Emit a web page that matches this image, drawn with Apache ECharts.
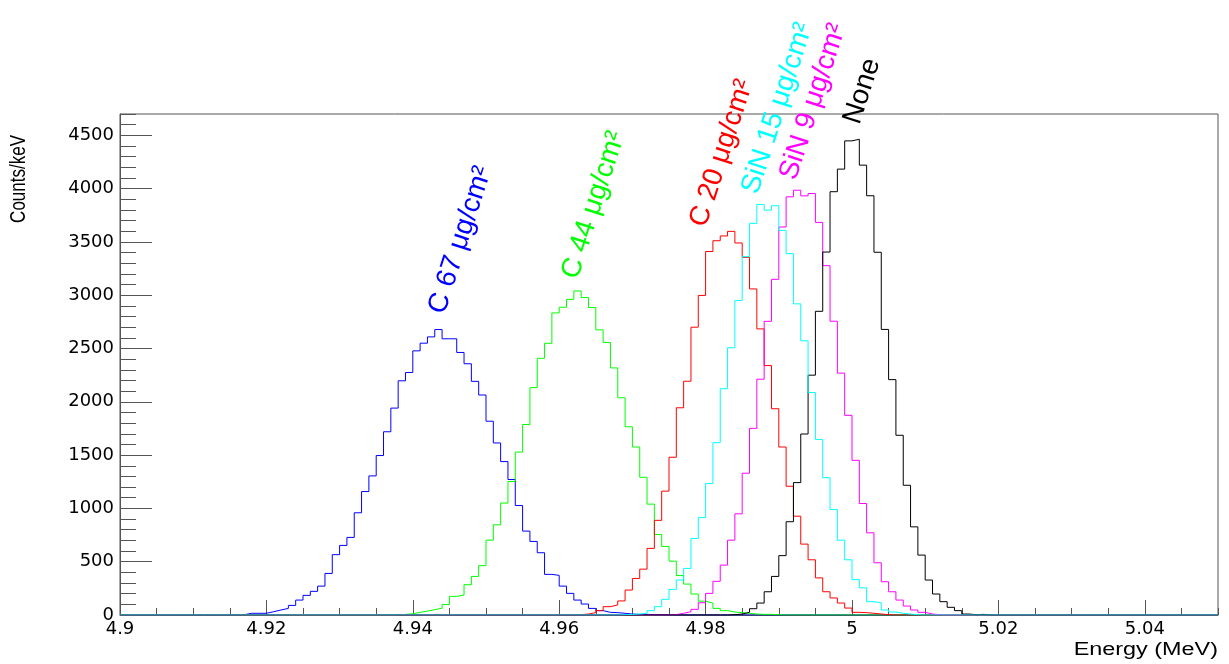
<!DOCTYPE html>
<html>
<head>
<meta charset="utf-8">
<script src="https://cdn.jsdelivr.net/npm/echarts@6/dist/echarts.min.js"></script>
<style>
html,body{margin:0;padding:0;background:#fff;}
#chart{width:1229px;height:664px;}
</style>
</head>
<body>
<div id="chart"></div>
<script>
// ---- data (counts per 1 keV bin); each list starts at the given bin low edge (MeV)
const xTickLabels = ['4.9','4.92','4.94','4.96','4.98','5','5.02','5.04'];
const yTickLabels = ['0','500','1000','1500','2000','2500','3000','3500','4000','4500'];

const seriesNames = ['C 67 μg/cm²','C 44 μg/cm²','C 20 μg/cm²','SiN 15 μg/cm²','SiN 9 μg/cm²','None'];
const seriesColors = ['#0000ff','#00ff00','#ff0000','#00ffff','#ff00ff','#000000'];

const c67Start = 4.914;
const c67Counts = [0,3,3,16,16,16,31,47,62,90,140,184,222,271,390,566,653,728,959,1158,1305,1496,1719,1941,2197,2275,2478,2550,2609,2678,2591,2591,2463,2357,2192,2064,1818,1614,1439,1271,1027,787,690,584,381,372,271,203,140,103,62,41,25,22,16,9,6,6,3,3];

const c44Start = 4.937;
const c44Counts = [3,5,12,25,36,50,64,98,175,187,284,362,463,702,846,1050,1252,1528,1787,2133,2408,2549,2834,2887,2961,3040,2978,2884,2675,2557,2318,2038,1766,1576,1292,1040,755,643,505,370,290,197,130,112,62,41,28,22,16,9,6,6,3];

const c20Start = 4.962;
const c20Counts = [3,9,22,41,78,94,132,234,343,430,625,888,1162,1480,1944,2193,2700,2998,3410,3511,3556,3599,3490,3355,3059,2684,2340,1935,1576,1208,927,665,518,348,218,160,112,65,25,22,16,9,3];

const sin15Start = 4.968;
const sin15Counts = [3,6,9,16,41,78,147,240,328,437,718,914,1233,1617,2123,2507,2950,3362,3674,3851,3798,3839,3608,3390,2919,2572,2087,1647,1288,990,702,518,332,255,125,115,47,28,16,9,3];

const sin9Start = 4.974;
const sin9Counts = [0,3,16,31,53,115,203,316,468,702,949,1330,1751,2212,2755,3149,3640,3923,3985,3932,3954,3683,3277,2756,2269,1873,1451,1046,771,490,312,218,140,84,47,25,9,3];

const noneStart = 4.983;
const noneCounts = [3,9,25,59,112,218,362,557,875,1242,1698,2250,2849,3405,3971,4183,4448,4463,4220,3933,3403,2679,2208,1686,1217,827,562,328,197,125,72,41,9,3,6];

// label anchor points (data coordinates: energy, counts)
const labelE = [4.9451, 4.9633, 4.9808, 4.9879, 4.9931, 5.0018];
const labelC = [2794, 3122, 3609, 3919, 4050, 4575];

// ---- build histograms
const xMin = 4.9, xMax = 5.05, binW = 0.001, nBins = 150;
const r3 = v => Math.round(v * 1000) / 1000;
function hist(start, counts) {
  const out = [];
  for (let k = 0; k <= nBins; k++) {
    const e = r3(xMin + k * binW);
    const idx = Math.round((e - start) / binW);
    const v = (k < nBins && idx >= 0 && idx < counts.length) ? counts[idx] : 0;
    out.push([e, v]);
  }
  return out;
}
const allCounts = [
  [c67Start, c67Counts], [c44Start, c44Counts], [c20Start, c20Counts],
  [sin15Start, sin15Counts], [sin9Start, sin9Counts], [noneStart, noneCounts]
];
const drawOrder = [0, 1, 2, 4, 5, 3];

const axisCol = '#555';
const tickFont = 'DejaVu Sans';

const chart = echarts.init(document.getElementById('chart'), null, {renderer: 'canvas'});
const option = {
  animation: false,
  backgroundColor: '#fff',
  grid: {left: 120, right: 11, top: 114, bottom: 49, show: true, borderColor: axisCol, borderWidth: 1, backgroundColor: 'transparent'},
  xAxis: [
    {type: 'value', min: xMin, max: xMax, interval: 0.02,
     axisLine: {show: true, lineStyle: {color: axisCol, width: 1}},
     axisTick: {show: true, inside: true, length: 15, lineStyle: {color: axisCol}},
     axisLabel: {show: true, margin: 5, color: '#000', fontFamily: tickFont, fontSize: 18,
       showMaxLabel: false,
       formatter: v => { const i = Math.round((v - xMin) / 0.02); return xTickLabels[i] !== undefined ? xTickLabels[i] : ''; }},
     splitLine: {show: false}},
    {type: 'value', min: xMin, max: xMax, interval: 0.005, position: 'bottom',
     axisLine: {show: false},
     axisTick: {show: true, inside: true, length: 7, lineStyle: {color: axisCol}},
     axisLabel: {show: false}, splitLine: {show: false}}
  ],
  yAxis: [
    {type: 'value', min: 0, max: 4700, interval: 500,
     axisLine: {show: true, lineStyle: {color: axisCol, width: 1}},
     axisTick: {show: true, inside: true, length: 32, lineStyle: {color: axisCol}},
     axisLabel: {show: true, margin: 6, color: '#000', fontFamily: tickFont, fontSize: 18,
       showMaxLabel: false,
       formatter: v => { const i = Math.round(v / 500); return (Math.abs(v - i * 500) < 1e-6 && yTickLabels[i] !== undefined) ? yTickLabels[i] : ''; }},
     splitLine: {show: false}},
    {type: 'value', min: 0, max: 4700, interval: 100, position: 'left',
     axisLine: {show: false},
     axisTick: {show: true, inside: true, length: 16, lineStyle: {color: axisCol}},
     axisLabel: {show: false}, splitLine: {show: false}}
  ],
  series: drawOrder.map(i => ({
    name: seriesNames[i], type: 'line', step: 'end', symbol: 'none',
    xAxisIndex: 0, yAxisIndex: 0,
    lineStyle: {color: seriesColors[i], width: 1}, itemStyle: {color: seriesColors[i]},
    data: hist(allCounts[i][0], allCounts[i][1]), silent: true, clip: true
  }))
};
chart.setOption(option);

// ---- text labels positioned through the axes
const rot = 72 * Math.PI / 180;
const graphics = seriesNames.map((name, i) => {
  const p = chart.convertToPixel({xAxisIndex: 0, yAxisIndex: 0}, [labelE[i], labelC[i]]);
  return {type: 'text', x: p[0], y: p[1], rotation: rot, silent: true, z: 100,
    style: {text: name, fill: seriesColors[i], font: '28px "Liberation Sans"', align: 'left', verticalAlign: 'bottom'}};
});
graphics.push({type: 'text', x: 1218, y: 659, scaleX: 1.3, silent: true, z: 100,
  style: {text: 'Energy (MeV)', fill: '#000', font: '18px "Liberation Sans"', align: 'right', verticalAlign: 'bottom'}});
graphics.push({type: 'text', x: 30, y: 135, rotation: Math.PI / 2, scaleY: 1.3, silent: true, z: 100,
  style: {text: 'Counts/keV', fill: '#000', font: '17px "Liberation Sans"', align: 'right', verticalAlign: 'bottom'}});
chart.setOption({graphic: graphics});
</script>
</body>
</html>
